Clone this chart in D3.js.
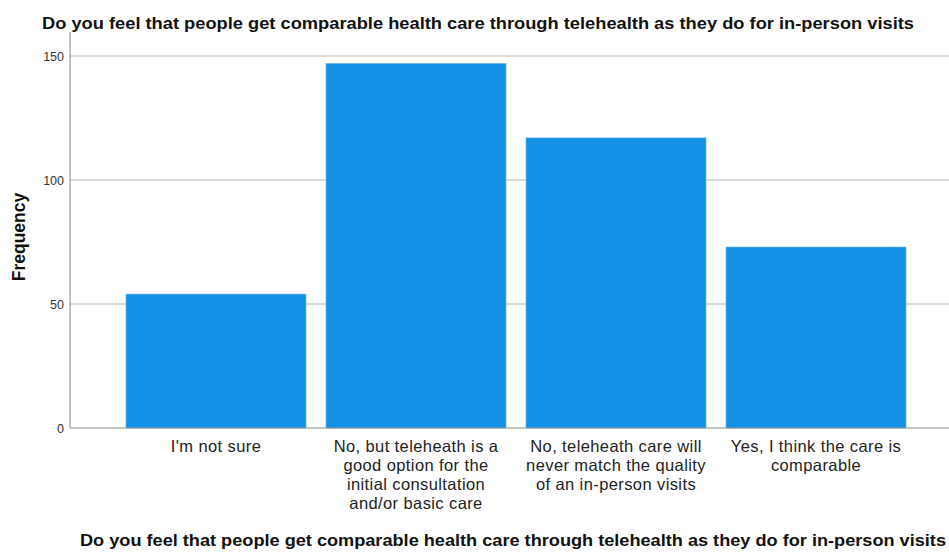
<!DOCTYPE html>
<html lang="en">
<head>
    <meta charset="UTF-8">
    <title>Telehealth comparable care</title>
    <script src="https://d3js.org/d3.v7.min.js"></script>
    <style>
        body { margin: 0; background: #fff; }
        svg { display: block; font-family: "Liberation Sans", Arial, sans-serif; }
    </style>
</head>
<body>
<svg></svg>
<script>
    const categories = [
        "I'm not sure",
        "No, but teleheath is a good option for the initial consultation and/or basic care",
        "No, teleheath care will never match the quality of an in-person visits",
        "Yes, I think the care is comparable"
    ];
    // wrapped the way the picture shows them
    const categoryLines = [
        ["I'm not sure"],
        ["No, but teleheath is a", "good option for the", "initial consultation", "and/or basic care"],
        ["No, teleheath care will", "never match the quality", "of an in-person visits"],
        ["Yes, I think the care is", "comparable"]
    ];
    const frequencies = [54, 147, 117, 73];
    const yTicks = [0, 50, 100, 150];
    const titleText = "Do you feel that people get comparable health care through telehealth as they do for in-person visits";

    const width = 949, height = 552;
    const axisX = 70, baseY = 428, topY = 32;

    const svg = d3.select("svg").attr("width", width).attr("height", height);

    const x = d3.scaleBand()
        .domain(categories)
        .range([116, 916])
        .paddingInner(0.1)
        .paddingOuter(0.05);

    const y = d3.scaleLinear()
        .domain([0, 159.7])
        .range([baseY, topY]);

    // gridlines
    svg.append("g")
        .selectAll("line")
        .data(yTicks.filter(d => d > 0))
        .join("line")
        .attr("x1", axisX).attr("x2", width)
        .attr("y1", d => y(d)).attr("y2", d => y(d))
        .attr("stroke", "#d2d2d2")
        .attr("stroke-width", 1.5);

    // bars
    svg.append("g")
        .selectAll("rect")
        .data(frequencies)
        .join("rect")
        .attr("x", (d, i) => x(categories[i]))
        .attr("width", x.bandwidth())
        .attr("y", d => y(d))
        .attr("height", d => baseY - y(d))
        .attr("fill", "#1490e6")
        .attr("stroke", "#6ab4ee")
        .attr("stroke-width", 0.6);

    // y axis
    const yAxis = svg.append("g")
        .attr("transform", `translate(${axisX},0)`)
        .call(d3.axisLeft(y).tickValues(yTicks).tickSize(0).tickPadding(6));
    yAxis.select(".domain").remove();
    yAxis.selectAll("text")
        .attr("font-size", 12.5)
        .attr("font-family", "Liberation Sans, Arial, sans-serif")
        .attr("fill", "#333");
    svg.append("line")
        .attr("x1", axisX).attr("x2", axisX)
        .attr("y1", topY).attr("y2", baseY)
        .attr("stroke", "#8a8a8a");

    // x axis
    svg.append("line")
        .attr("x1", axisX).attr("x2", width)
        .attr("y1", baseY).attr("y2", baseY)
        .attr("stroke", "#8a8a8a");

    const labels = svg.append("g")
        .selectAll("text")
        .data(categories)
        .join("text")
        .attr("text-anchor", "middle")
        .attr("font-size", 16.5)
        .attr("letter-spacing", 0.4)
        .attr("fill", "#222")
        .attr("transform", d => `translate(${x(d) + x.bandwidth() / 2},452)`);
    labels.each(function(d, i) {
        d3.select(this).selectAll("tspan")
            .data(categoryLines[i])
            .join("tspan")
            .attr("x", 0)
            .attr("y", (t, j) => j * 19)
            .text(t => t);
    });

    // titles
    svg.append("text")
        .attr("x", 42).attr("y", 29)
        .attr("font-size", 17)
        .attr("font-weight", "bold")
        .attr("fill", "#111")
        .attr("textLength", 872)
        .attr("lengthAdjust", "spacingAndGlyphs")
        .text(titleText);

    svg.append("text")
        .attr("x", 80).attr("y", 546)
        .attr("font-size", 17)
        .attr("font-weight", "bold")
        .attr("fill", "#111")
        .attr("textLength", 866)
        .attr("lengthAdjust", "spacingAndGlyphs")
        .text(titleText);

    svg.append("text")
        .attr("transform", "translate(25,237) rotate(-90)")
        .attr("text-anchor", "middle")
        .attr("font-size", 17.5)
        .attr("font-weight", "bold")
        .attr("fill", "#111")
        .text("Frequency");
</script>
</body>
</html>
